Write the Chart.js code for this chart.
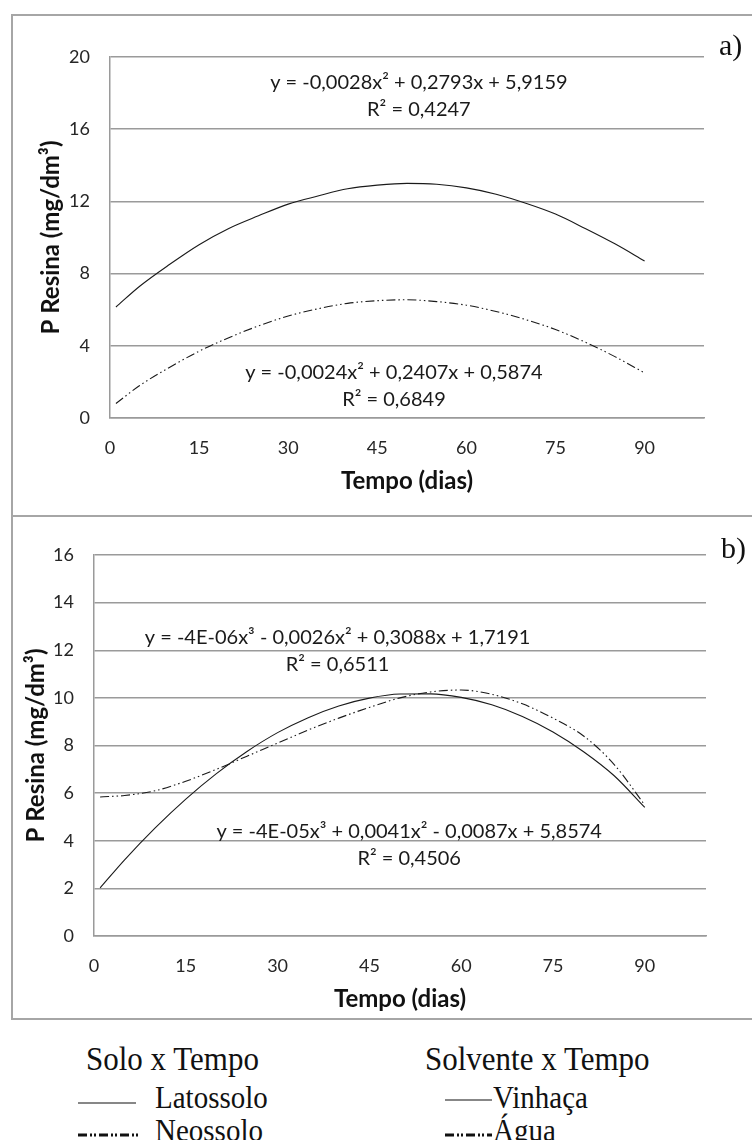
<!DOCTYPE html>
<html>
<head>
<meta charset="utf-8">
<script src="https://cdn.jsdelivr.net/npm/chart.js@4/dist/chart.umd.min.js"></script>
<style>
  body { margin: 0; background: #fff; width: 752px; height: 1140px; overflow: hidden; position: relative; }
  .painel { position: absolute; left: 11px; width: 770px; border: 2px solid #a6a6a6; box-sizing: border-box; }
  #painelA { top: 14px; height: 503px; }
  #painelB { top: 515px; height: 505px; }
  canvas { position: absolute; left: 12px; }
  #graficoA { top: 15px; }
  #graficoB { top: 515px; }
  .letra { position: absolute; font-family: "Liberation Serif", serif; font-size: 30px; color: #111; }
  .leg { position: absolute; font-family: "Liberation Serif", serif; color: #111; white-space: nowrap; line-height: 1; transform-origin: left center; transform: scaleY(1.1); }
  .tit { font-size: 31px; }
  .item { font-size: 29px; }
  svg { position: absolute; }
</style>
</head>
<body>
<div class="painel" id="painelA"></div>
<div class="painel" id="painelB"></div>
<canvas id="graficoA" width="740" height="500"></canvas>
<canvas id="graficoB" width="740" height="503"></canvas>
<div class="letra" style="left:719px; top:28px;">a)</div>
<div class="letra" style="left:721px; top:531px;">b)</div>

<!-- legenda de baixo -->
<div class="leg tit" style="left:86px; top:1043px;">Solo x Tempo</div>
<div class="leg tit" style="left:425px; top:1043px;">Solvente x Tempo</div>
<svg style="left:76px; top:1096px;" width="64" height="12"><line x1="2" y1="7" x2="60" y2="7" stroke="#111" stroke-width="1.2"/></svg>
<div class="leg item" style="left:155px; top:1083px;">Latossolo</div>
<svg style="left:76px; top:1128px;" width="64" height="12"><line x1="2" y1="7" x2="62" y2="7" stroke="#111" stroke-width="3" stroke-dasharray="9,3,2,2,2,3"/></svg>
<div class="leg item" style="left:155px; top:1116px;">Neossolo</div>
<svg style="left:443px; top:1093px;" width="52" height="12"><line x1="2" y1="7" x2="49" y2="7" stroke="#111" stroke-width="1.2"/></svg>
<div class="leg item" style="left:493px; top:1083px;">Vinhaça</div>
<svg style="left:443px; top:1128px;" width="52" height="12"><line x1="2" y1="7" x2="49" y2="7" stroke="#111" stroke-width="3" stroke-dasharray="9,3,2,2,2,3"/></svg>
<div class="leg item" style="left:493px; top:1116px;">Água</div>

<script>
// dias das curvas
const dias = [1, 5, 10, 15, 20, 25, 30, 35, 40, 45, 50, 55, 60, 65, 70, 75, 80, 85, 90];

// a) solo x tempo
const latossolo = [6.15, 7.3, 8.5, 9.6, 10.5, 11.2, 11.85, 12.3, 12.7, 12.9, 13.0, 12.95, 12.75, 12.4, 11.9, 11.3, 10.5, 9.65, 8.7];
const neossolo  = [0.8, 1.8, 2.8, 3.7, 4.45, 5.1, 5.65, 6.05, 6.35, 6.5, 6.55, 6.45, 6.25, 5.9, 5.45, 4.9, 4.2, 3.4, 2.5];

// b) solvente x tempo
const vinhaca = [2.02, 3.2, 4.54, 5.75, 6.82, 7.75, 8.54, 9.17, 9.66, 9.99, 10.16, 10.17, 10.02, 9.71, 9.22, 8.57, 7.74, 6.73, 5.4];
const agua    = [5.84, 5.9, 6.1, 6.5, 7.0, 7.55, 8.1, 8.65, 9.15, 9.6, 10.0, 10.25, 10.33, 10.15, 9.75, 9.15, 8.4, 7.2, 5.5];

// eixos
const ticksX = [0, 15, 30, 45, 60, 75, 90];
const ticksYA = [0, 4, 8, 12, 16, 20];
const ticksYB = [0, 2, 4, 6, 8, 10, 12, 14, 16];

// equacoes das linhas de tendencia
const eqLatossolo = ['y = -0,0028x² + 0,2793x + 5,9159', 'R² = 0,4247'];
const eqNeossolo  = ['y = -0,0024x² + 0,2407x + 0,5874', 'R² = 0,6849'];
const eqVinhaca   = ['y = -4E-06x³ - 0,0026x² + 0,3088x + 1,7191', 'R² = 0,6511'];
const eqAgua      = ['y = -4E-05x³ + 0,0041x² - 0,0087x + 5,8574', 'R² = 0,4506'];

const tracoPonto = [9, 3, 1.5, 3, 1.5, 3];

function pontos(ys) {
  return dias.map((d, i) => ({ x: d, y: ys[i] }));
}

const equacoes = {
  id: 'equacoes',
  afterDatasetsDraw(chart, args, opts) {
    const ctx = chart.ctx;
    const sx = chart.scales.x, sy = chart.scales.y;
    ctx.save();
    ctx.font = '20px Lato';
    ctx.fillStyle = '#1a1a1a';
    ctx.textAlign = 'center';
    ctx.textBaseline = 'middle';
    for (const e of opts.itens) {
      const px = sx.getPixelForValue(e.x);
      const py = sy.getPixelForValue(e.y);
      e.linhas.forEach((t, i) => ctx.fillText(t, px, py + i * 27));
    }
    ctx.restore();
  }
};

function criar(id, series, ticksY, larguraY, alturaX, pad, tituloYPad, tituloXPad, itens) {
  const ctx = document.getElementById(id);
  return new Chart(ctx, {
    type: 'scatter',
    data: {
      datasets: series.map(s => ({
        data: pontos(s.valores),
        showLine: true,
        borderColor: '#1a1a1a',
        borderWidth: 1.1,
        borderDash: s.traco,
        pointRadius: 0,
        cubicInterpolationMode: 'monotone',
        fill: false
      }))
    },
    options: {
      responsive: false,
      animation: false,
      devicePixelRatio: 1,
      layout: { padding: pad },
      plugins: {
        legend: { display: false },
        tooltip: { enabled: false },
        equacoes: { itens: itens }
      },
      scales: {
        x: {
          type: 'linear',
          min: 0,
          max: 100,
          afterBuildTicks: sc => { sc.ticks = ticksX.map(v => ({ value: v })); },
          afterFit: sc => { sc.height = alturaX; },
          grid: { display: false, drawTicks: false },
          border: { display: true, color: '#9a9a9a', width: 1.5 },
          ticks: { color: '#262626', font: { family: 'Lato', size: 18 }, padding: 19, maxRotation: 0 },
          title: {
            display: true,
            text: 'Tempo (dias)',
            color: '#111',
            font: { family: 'Lato', size: 24, weight: 'bold' },
            padding: { top: 0, bottom: tituloXPad }
          }
        },
        y: {
          min: ticksY[0],
          max: ticksY[ticksY.length - 1],
          afterBuildTicks: sc => { sc.ticks = ticksY.map(v => ({ value: v })); },
          afterFit: sc => { sc.width = larguraY; },
          grid: { color: '#9a9a9a', lineWidth: 1.5, drawTicks: false },
          border: { display: true, color: '#9a9a9a', width: 1.5 },
          ticks: { color: '#262626', font: { family: 'Lato', size: 18 }, padding: 20 },
          title: {
            display: true,
            text: 'P Resina (mg/dm³)',
            color: '#111',
            font: { family: 'Lato', size: 24, weight: 'bold' },
            padding: { top: tituloYPad }
          }
        }
      }
    },
    plugins: [equacoes]
  });
}

criar('graficoA',
  [{ valores: latossolo, traco: [] }, { valores: neossolo, traco: tracoPonto }],
  ticksYA, 98, 97, { top: 42, right: 48, left: 0, bottom: 0 }, 25, 19,
  [{ x: 52, y: 18.56, linhas: eqLatossolo }, { x: 47.8, y: 2.5, linhas: eqNeossolo }]);

criar('graficoB',
  [{ valores: vinhaca, traco: [] }, { valores: agua, traco: tracoPonto }],
  ticksYB, 82, 82, { top: 40, right: 46, left: 0, bottom: 0 }, 10, 4,
  [{ x: 39.8, y: 12.52, linhas: eqVinhaca }, { x: 51.5, y: 4.37, linhas: eqAgua }]);
</script>
</body>
</html>
